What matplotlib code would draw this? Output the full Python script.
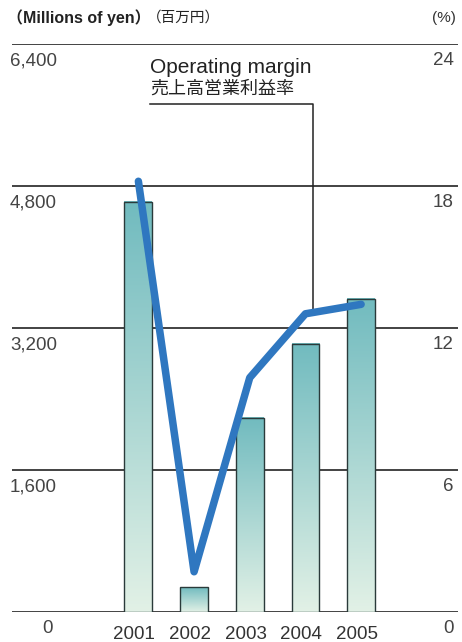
import numpy as np
import matplotlib.pyplot as plt
from matplotlib.colors import LinearSegmentedColormap

plt.rcParams['font.family'] = ['Liberation Sans', 'Noto Sans CJK JP', 'DejaVu Sans']

years = ['2001', '2002', '2003', '2004', '2005']
income = [4620, 280, 2190, 3020, 3530]          # millions of yen
margin = [18.2, 1.7, 9.9, 12.6, 13.0]           # %
left_ticks = [0, 1600, 3200, 4800, 6400]
right_ticks = [0, 6, 12, 18, 24]

fig = plt.figure(figsize=(4.62, 6.42), dpi=100)
ax = fig.add_axes([12 / 462, 30 / 642, 446 / 462, 568 / 642])
ax.axis('off')

x = np.arange(len(years))
width = 0.5
cmap = LinearSegmentedColormap.from_list('bar', ['#e2f1e6', '#71bbbf'])
grad = np.linspace(0, 1, 256).reshape(-1, 1)
for xi, v in zip(x, income):
    ax.imshow(grad, cmap=cmap, origin='lower', aspect='auto',
              extent=(xi - width / 2, xi + width / 2, 0, v), zorder=1)
ax.bar(x, income, width, facecolor='none', edgecolor='#2a3a3a', linewidth=1.0, zorder=2)
ax.set_xlim(-2.27, 5.74)
ax.set_ylim(0, 6400)

# horizontal rules
for t in left_ticks:
    ax.axhline(t, color='#222222', linewidth=1.2, zorder=0)

for t in left_ticks:
    ax.annotate(f'{t:,}', xy=(0, t), xycoords=('axes fraction', 'data'),
                xytext=(-2 if t else 30, -8), textcoords='offset pixels',
                ha='left', va='top', fontsize=13.5, color='#444444')
for t in right_ticks:
    ax.annotate(f'{t}', xy=(1, t * 6400 / 24), xycoords=('axes fraction', 'data'),
                xytext=(-4, -8), textcoords='offset pixels',
                ha='right', va='top', fontsize=13.5, color='#444444')
for xi, y in zip(x, years):
    ax.annotate(y, xy=(xi, 0), xycoords='data', xytext=(-4, -14),
                textcoords='offset pixels', ha='center', va='top',
                fontsize=13.5, color='#333333')

# operating margin line on the right scale
ax2 = ax.twinx()
ax2.set_ylim(0, 24)
ax2.axis('off')
ax2.plot(x, margin, color='#2f77c0', linewidth=5.4, solid_capstyle='round',
         solid_joinstyle='round', zorder=5)

# callout for the line
lx = 3.13
ly = np.interp(lx, x, margin)
ax2.plot([0.21, lx, lx], [21.45, 21.45, ly], color='#222222', linewidth=1.1, zorder=4)
ax2.text(0.21, 23.0, 'Operating margin', ha='left', va='center', fontsize=15, color='#222222')
ax2.text(0.21, 22.1, '売上高営業利益率', ha='left', va='center', fontsize=13,
         color='#222222', family=['Noto Sans CJK JP'])

# header units
head_y = 1 - 18 / 642
t1 = fig.text(7 / 462, head_y, '（Millions of yen）', ha='left', va='center', fontsize=11.5,
              fontweight='bold', color='#222222')
fig.canvas.draw()
bb = t1.get_window_extent()
fig.text((bb.x1 - 4) / 462, head_y, '（百万円）', ha='left', va='center', fontsize=10.5,
         family=['Noto Sans CJK JP'], color='#222222')
fig.text(456 / 462, head_y, '(%)', ha='right', va='center', fontsize=11, color='#333333')

fig.savefig('out.png', dpi=100)
